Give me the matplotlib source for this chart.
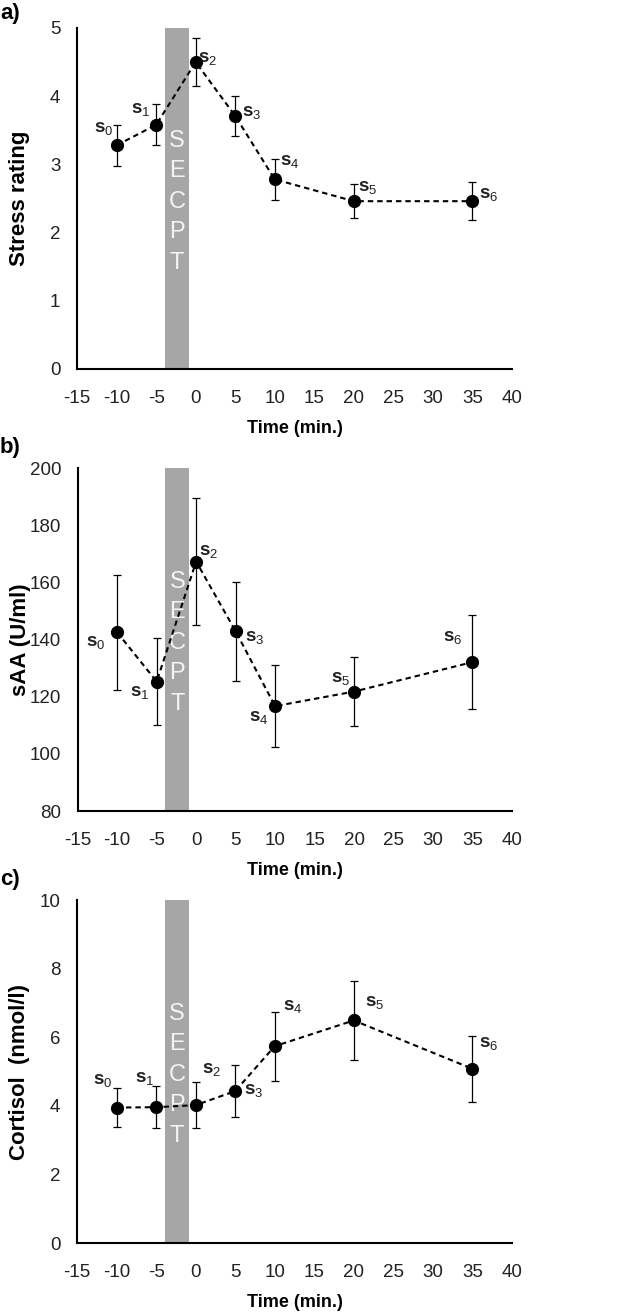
# Three stacked panels: stress rating, sAA and cortisol over time around the SECPT
import numpy as np
import matplotlib
matplotlib.use('Agg')
import matplotlib.pyplot as plt

plt.rcParams['font.family'] = ['Liberation Sans', 'DejaVu Sans']
plt.rcParams['mathtext.fontset'] = 'custom'
plt.rcParams['mathtext.rm'] = 'Liberation Sans'
plt.rcParams['mathtext.bf'] = 'Liberation Sans:bold'
plt.rcParams['axes.unicode_minus'] = False

# Sampling times (min.)
time = [-10, -5, 0, 5, 10, 20, 35]
sample_ids = ['0', '1', '2', '3', '4', '5', '6']

# a) stress rating
stress_mean = [3.28, 3.58, 4.50, 3.71, 2.78, 2.46, 2.46]
stress_err = [0.30, 0.30, 0.35, 0.29, 0.30, 0.25, 0.28]

# b) salivary alpha-amylase
saa_mean = [142.5, 125.3, 167.3, 142.9, 116.7, 121.8, 132.1]
saa_err = [20.0, 15.2, 22.3, 17.4, 14.4, 12.2, 16.4]

# c) cortisol
cortisol_mean = [3.95, 3.96, 4.02, 4.43, 5.74, 6.49, 5.08]
cortisol_err = [0.58, 0.61, 0.67, 0.77, 1.01, 1.15, 0.97]

# SECPT period
secpt_span = (-3.9, -0.85)

# label offsets (pixels) for s0..s6 in each panel
offsets_a = [(-13, 16), (-15, 14), (12, 3), (16, 3), (15, 17), (14, 13), (16, 6)]
offsets_b = [(-22, -11), (-17, -12), (12, 9), (19, -7), (-16, -12), (-13, 12), (-20, 24)]
offsets_c = [(-14, 26), (-11, 28), (16, 35), (18, 0), (18, 39), (21, 17), (16, 24)]


def draw_panel(ax, mean, err, ylim, ystep, ylabel, offsets):
    ax.axvspan(secpt_span[0], secpt_span[1], color='#a6a6a6', zorder=0, lw=0)
    ax.text((secpt_span[0] + secpt_span[1]) / 2, 0.49, 'S\nE\nC\nP\nT',
            transform=ax.get_xaxis_transform(), color='#f4f4f4', fontsize=17,
            ha='center', va='center', linespacing=1.5, zorder=1)

    ax.errorbar(time, mean, yerr=err, fmt='none', ecolor='black', elinewidth=0.9,
                capsize=3, capthick=0.9, zorder=2)
    ax.plot(time, mean, color='black', lw=1.5, dashes=(2.6, 1.9), zorder=3)
    ax.plot(time, mean, 'o', color='black', ms=8.5, zorder=4)

    for t, m, sid, off in zip(time, mean, sample_ids, offsets):
        ax.annotate(r'$\mathbf{s}_{\mathrm{%s}}$' % sid, (t, m), xytext=off,
                    textcoords='offset pixels', ha='center', va='center',
                    fontsize=13.5, color='#222222')

    ax.set_xlim(-15, 40)
    ax.set_xticks(np.arange(-15, 41, 5))
    ax.set_ylim(*ylim)
    ax.set_yticks(np.arange(ylim[0], ylim[1] + ystep / 2, ystep))

    for side in ['top', 'right']:
        ax.spines[side].set_visible(False)
    for side in ['left', 'bottom']:
        ax.spines[side].set_linewidth(1.5)
    ax.tick_params(length=0, labelsize=13.5, colors='#222222')
    ax.tick_params(axis='x', pad=15)
    ax.tick_params(axis='y', pad=12)

    ax.set_xlabel('Time (min.)', fontsize=13, fontweight='bold')
    ax.set_ylabel(ylabel, fontsize=16, fontweight='bold')
    ax.xaxis.set_label_coords(0.5, -0.15)
    ax.yaxis.set_label_coords(-0.108, 0.5)


fig = plt.figure(figsize=(6.32, 13.13), dpi=100)

ax_a = fig.add_axes([0.122, 0.719, 0.688, 0.2597])
ax_b = fig.add_axes([0.123, 0.3823, 0.687, 0.2612])
ax_c = fig.add_axes([0.122, 0.0533, 0.688, 0.2612])

draw_panel(ax_a, stress_mean, stress_err, (0, 5), 1, 'Stress rating', offsets_a)
draw_panel(ax_b, saa_mean, saa_err, (80, 200), 20, 'sAA (U/ml)', offsets_b)
draw_panel(ax_c, cortisol_mean, cortisol_err, (0, 10), 2, 'Cortisol  (nmol/l)', offsets_c)

# Panel letters
fig.text(0.0, 1 - 14 / 1313, 'a)', fontsize=16, fontweight='bold', va='center')
fig.text(0.0, 1 - 447 / 1313, 'b)', fontsize=16, fontweight='bold', va='center')
fig.text(0.0, 1 - 880 / 1313, 'c)', fontsize=16, fontweight='bold', va='center')

fig.savefig('out.png', dpi=100)
